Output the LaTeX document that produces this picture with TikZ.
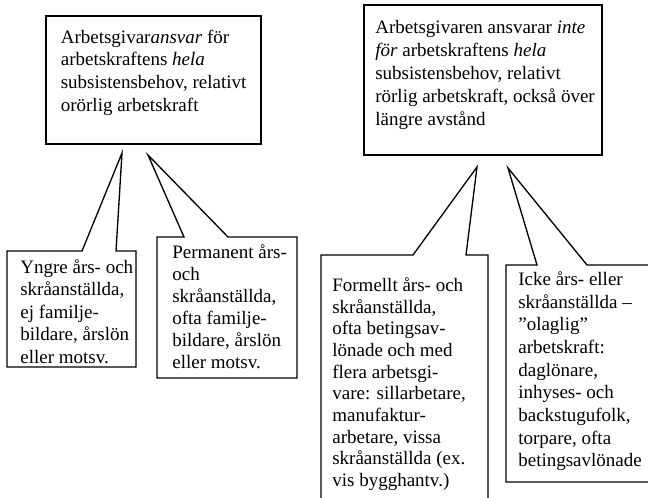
\documentclass[tikz,border=0pt]{standalone}
\usepackage{fontspec}
\setmainfont{Liberation Serif}
\usetikzlibrary{calc}
\newcommand\rader[1]{\begin{tabular}[t]{@{}l@{}}#1\end{tabular}}
\tikzset{
  ruta/.style={line width=.8pt},
  txt/.style={anchor=base west, inner sep=0pt, font=\fontsize{11.4}{#1}\selectfont},
  txt/.default=13.6pt,
}
\begin{document}
\begin{tikzpicture}[x=.6pt, y=-.6pt]
%\draw[help lines] (0,0) grid[step=50] (648,497);
\clip (0,0) rectangle (648,497);
% top boxes
\draw[ruta] (46,16) rectangle (261,144);
\path (60.5,43) node[txt=13.7pt] (hel) {\rader{Arbetsgivar\textit{ansvar} för\\arbetskraftens \textit{hela}\\subsistensbehov, relativt\\orörlig arbetskraft}};
\draw[ruta] (364,5) rectangle (602,155);
\path (375,33) node[txt=13.8pt] (inte) {\rader{Arbetsgivaren ansvarar \textit{inte}\\\textit{för} arbetskraftens \textit{hela}\\subsistensbehov, relativt\\rörlig arbetskraft, också över\\längre avstånd}};
% callouts under the left box
\coordinate (spets1) at (122,153);
\coordinate (spets2) at (148,155);
\draw[ruta] (7,251) -- (82,251) -- (spets1) -- (116,251) -- (136,251) -- (136,367) -- (7,367) -- cycle;
\path (20,273.5) node[txt=13.45pt] (yngre) {\rader{Yngre års- och\\skråanställda,\\ej familje-\\bildare, årslön\\eller motsv.}};
\draw[ruta] (157,237) -- (184,237) -- (spets2) -- (228,237) -- (297,237) -- (297,378) -- (157,378) -- cycle;
\path (172,258) node[txt=13.3pt] (perm) {\rader{Permanent års-\\och\\skråanställda,\\ofta familje-\\bildare, årslön\\eller motsv.}};
% callouts under the right box
\coordinate (spets3) at (477,167);
\coordinate (spets4) at (508,168);
\draw[ruta] (321,255) -- (413,255) -- (spets3) -- (466,255) -- (488,255) -- (488,505) -- (321,505) -- cycle;
\path (332,291.5) node[txt=13pt] (formellt) {\rader{Formellt års- och\\skråanställda,\\ofta betingsav-\\lönade och med\\flera arbetsgi-\\vare: sillarbetare,\\manufaktur-\\arbetare, vissa\\skråanställda (ex.\\vis bygghantv.)}};
\draw[ruta] (506,265) -- (537,265) -- (spets4) -- (587,265) -- (655,265) -- (655,482) -- (506,482) -- cycle;
\path (518,285.5) node[txt] (icke) {\rader{Icke års- eller\\skråanställda –\\”olaglig”\\arbetskraft:\\daglönare,\\inhyses- och\\backstugufolk,\\torpare, ofta\\betingsavlönade}};
\end{tikzpicture}
\end{document}
